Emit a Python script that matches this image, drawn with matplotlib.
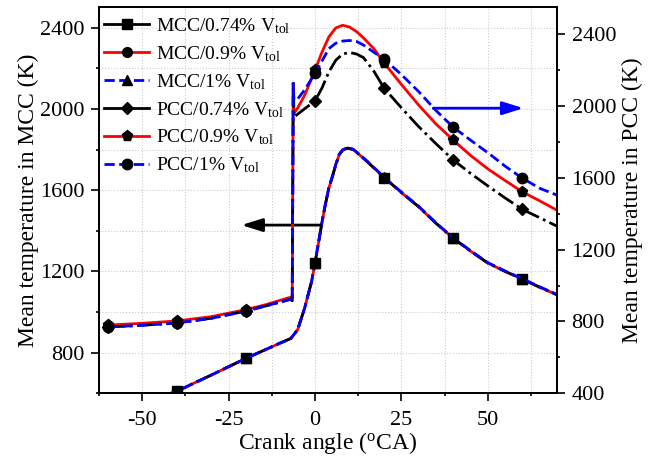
import numpy as np
import matplotlib
matplotlib.use('Agg')
import matplotlib.pyplot as plt
from matplotlib.lines import Line2D

plt.rcParams['font.family'] = ['Liberation Serif', 'DejaVu Serif']
plt.rcParams['mathtext.fontset'] = 'custom'
plt.rcParams['mathtext.rm'] = 'Liberation Serif'
plt.rcParams['mathtext.it'] = 'Liberation Serif:italic'
plt.rcParams['axes.unicode_minus'] = False

# MCC (left axis)
x_mcc = [-50, -45, -40, -30, -20, -10, -7, -5, -3, -1, 0, 1, 2, 3, 4, 5, 6, 7, 8, 9.4,
         11, 13, 15, 20, 25, 30, 35, 40, 45, 50, 55, 60, 65, 70]
mcc_074 = [545, 580, 610, 690, 772, 848, 870, 914, 1020, 1150, 1241, 1340, 1440, 1530, 1610,
           1665, 1725, 1775, 1797, 1807, 1800, 1772, 1742, 1662, 1588, 1518, 1437, 1363, 1300,
           1241, 1200, 1162, 1122, 1085]
mcc_09 = [545, 580, 610, 690, 772, 848, 870, 914, 1020, 1150, 1241, 1340, 1440, 1530, 1610,
          1665, 1725, 1775, 1797, 1807, 1800, 1772, 1742, 1662, 1588, 1518, 1437, 1363, 1300,
          1241, 1200, 1162, 1122, 1085]
mcc_1 = [545, 580, 610, 690, 772, 848, 870, 914, 1020, 1150, 1241, 1342, 1442, 1532, 1612,
         1667, 1727, 1777, 1799, 1809, 1802, 1774, 1744, 1664, 1590, 1520, 1439, 1365, 1302,
         1243, 1202, 1164, 1124, 1087]

# PCC (right axis)
x_pcc = [-60, -50, -40, -30, -20, -14, -8, -7, -6.6, -6.3, -6.1, -5, -3, 0, 2, 4, 6, 8, 10,
         12, 14, 17, 20, 25, 30, 35, 40, 45, 50, 55, 60, 65, 70]
pcc_074 = [769, 779, 791, 818, 858, 888, 919, 924, 915, 2127, 1938, 1955, 1985, 2029, 2100,
           2190, 2255, 2290, 2298, 2290, 2270, 2195, 2099, 1990, 1885, 1790, 1699, 1625, 1555,
           1488, 1424, 1378, 1331]
pcc_09 = [780, 790, 803, 827, 866, 895, 930, 935, 930, 2127, 1960, 1990, 2060, 2200, 2300,
          2385, 2435, 2450, 2440, 2415, 2380, 2320, 2240, 2120, 2005, 1900, 1810, 1725, 1650,
          1585, 1522, 1472, 1420]
pcc_1 = [769, 779, 791, 818, 858, 888, 919, 924, 915, 2127, 2033, 2040, 2090, 2183, 2250,
         2320, 2350, 2362, 2365, 2360, 2340, 2300, 2261, 2175, 2080, 1975, 1882, 1810, 1740,
         1665, 1598, 1542, 1504]

mcc_marks = [-40, -20, 0, 20, 40, 60]
pcc_marks = [-60, -40, -20, 0, 20, 40, 60]

labels = [r'MCC/0.74% V$_{\mathrm{tol}}$', r'MCC/0.9% V$_{\mathrm{tol}}$', r'MCC/1% V$_{\mathrm{tol}}$',
          r'PCC/0.74% V$_{\mathrm{tol}}$', r'PCC/0.9% V$_{\mathrm{tol}}$', r'PCC/1% V$_{\mathrm{tol}}$']


def mark_idx(xs, marks):
    return [i for i, v in enumerate(xs) if v in marks]


fig = plt.figure(figsize=(6.5, 4.59), dpi=100)
ax = fig.add_axes([0.1523, 0.1431, 0.7046, 0.841])
ax2 = ax.twinx()

lw = 2
mk = dict(markerfacecolor='black', markeredgecolor='black')
mi = mark_idx(x_mcc, mcc_marks)
ax.plot(x_mcc, mcc_09, color='red', ls='-', lw=lw, marker='o', ms=7, markevery=mi, **mk)
ax.plot(x_mcc, mcc_074, color='black', ls='-.', lw=lw, marker='s', ms=7, markevery=mi, **mk)
ax.plot(x_mcc, mcc_1, color='blue', ls='--', lw=lw, marker='^', ms=7, markevery=mi, **mk)

pi = mark_idx(x_pcc, pcc_marks)
ax2.plot(x_pcc, pcc_09, color='red', ls='-', lw=lw, marker='p', ms=8, markevery=pi, **mk)
ax2.plot(x_pcc, pcc_074, color='black', ls='-.', lw=lw, marker='D', ms=6.5, markevery=pi, **mk)
ax2.plot(x_pcc, pcc_1, color='blue', ls='--', lw=lw, marker='o', ms=7.5, markevery=pi, **mk)

ax.set_xlim(-60, 70)
ax.set_ylim(600, 2500)
ax2.set_ylim(400, 2550)
ax.set_xticks([-50, -25, 0, 25, 50])
ax.set_xticks(np.arange(-62.5, 70, 12.5), minor=True)
ax.set_yticks([800, 1200, 1600, 2000, 2400])
ax.set_yticks(np.arange(600, 2500, 200), minor=True)
ax2.set_yticks([400, 800, 1200, 1600, 2000, 2400])
ax2.set_yticks(np.arange(400, 2550, 200), minor=True)

ax.grid(True, which='both', color='#cccccc', ls=':', lw=0.8)
ax.set_axisbelow(True)

for a in (ax, ax2):
    a.tick_params(which='major', direction='out', length=5.5, width=1.2, labelsize=16, pad=5)
    a.tick_params(which='minor', direction='out', length=2.5, width=1.2)
    for s in a.spines.values():
        s.set_linewidth(1.3)
ax.tick_params(axis='x', pad=7)

ax.set_xlabel(r'Crank angle ($^{\mathrm{o}}$CA)', fontsize=17, labelpad=0)
ax.set_ylabel('Mean temperature in MCC (K)', fontsize=17, labelpad=1)
ax2.set_ylabel('Mean temperature in PCC (K)', fontsize=17, labelpad=4)

ax.annotate('', xy=(-21.3, 1428), xytext=(1.6, 1428),
            arrowprops=dict(arrowstyle='-|>,head_length=0.7,head_width=0.22', color='black',
                            lw=2, mutation_scale=18, shrinkA=0, shrinkB=0))
ax2.annotate('', xy=(60.3, 1988), xytext=(34.2, 1988),
             arrowprops=dict(arrowstyle='-|>,head_length=0.7,head_width=0.22', color='blue',
                             lw=2, mutation_scale=18, shrinkA=0, shrinkB=0))

handles = [
    Line2D([], [], color='black', ls='-', lw=lw, marker='s', ms=7, **mk),
    Line2D([], [], color='red', ls='-', lw=lw, marker='o', ms=7, **mk),
    Line2D([], [], color='blue', ls='--', lw=lw, marker='^', ms=7, **mk),
    Line2D([], [], color='black', ls='-', lw=lw, marker='D', ms=6.5, **mk),
    Line2D([], [], color='red', ls='-', lw=lw, marker='p', ms=8, **mk),
    Line2D([], [], color='blue', ls='--', lw=lw, marker='o', ms=7.5, **mk),
]
ax2.legend(handles, labels, loc='upper left', frameon=False, fontsize=14,
           handlelength=2.3, handletextpad=0.35, labelspacing=0.42,
           borderaxespad=0.0, bbox_to_anchor=(-0.005, 0.997))

fig.savefig('out.png', dpi=100)
